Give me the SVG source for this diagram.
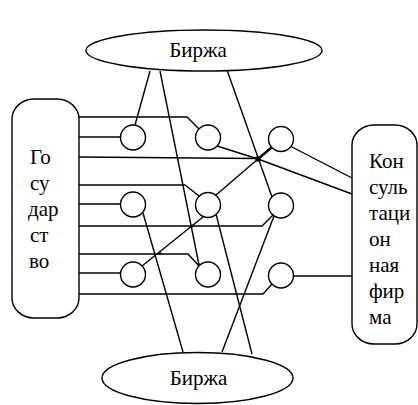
<svg xmlns="http://www.w3.org/2000/svg" width="418" height="405" viewBox="0 0 418 405">
<style>
.s{fill:#fff;stroke:#000;stroke-width:1.4}
.w{fill:none;stroke:#000;stroke-width:1.4;stroke-linejoin:miter}
.d{fill:#000}
</style>
<rect width="418" height="405" fill="#fff"/>
<g id="connectors">
<polyline class="w" points="79,117 187,117 199,129"/>
<polyline class="w" points="79,137 120.5,137"/>
<polyline class="w" points="79,157 258,158.5"/>
<polyline class="w" points="79,185 185,185 199,196"/>
<polyline class="w" points="79,204 120.5,204"/>
<polyline class="w" points="79,226 262,226 273,215"/>
<polyline class="w" points="79,254 188,254 199,266"/>
<polyline class="w" points="79,273 120.5,273"/>
<polyline class="w" points="79,294 263,294 272,284"/>
<line class="w" x1="150" y1="71" x2="135" y2="125"/>
<line class="w" x1="160" y1="71" x2="199" y2="265"/>
<line class="w" x1="227" y1="70" x2="272" y2="197"/>
<line class="w" x1="143" y1="213" x2="183" y2="352"/>
<line class="w" x1="216" y1="214" x2="252" y2="354"/>
<line class="w" x1="274" y1="216" x2="222" y2="352"/>
<line class="w" x1="217" y1="146" x2="258" y2="159"/>
<line class="w" x1="258" y1="159" x2="352" y2="194"/>
<line class="w" x1="258" y1="159" x2="272" y2="147" style="stroke-width:2.4"/>
<line class="w" x1="258" y1="159" x2="216" y2="195"/>
<line class="w" x1="203" y1="217" x2="142" y2="266"/>
<line class="w" x1="290" y1="146" x2="352" y2="178"/>
<line class="w" x1="293.5" y1="276" x2="352" y2="276"/>
<rect class="d" x="255.5" y="156.5" width="5" height="5"/>
<circle class="d" cx="192" cy="226" r="1.6"/>
<circle class="d" cx="160" cy="253.5" r="1.6"/>
<circle class="d" cx="198.5" cy="264.5" r="1.4"/>
</g>
<g id="birzha-top">
<ellipse class="s" cx="204" cy="50.5" rx="118" ry="20.5"/>
<text x="198" y="57" text-anchor="middle" font-family="Liberation Serif" font-size="21">Биржа</text>
</g>
<g id="birzha-bottom">
<ellipse class="s" cx="197.5" cy="378" rx="95.5" ry="25.5"/>
<text x="198.5" y="385" text-anchor="middle" font-family="Liberation Serif" font-size="21">Биржа</text>
</g>
<g id="gosudarstvo">
<rect class="s" x="12" y="99" width="67" height="219" rx="22" ry="20"/>
<text x="30" y="164" font-family="Liberation Serif" font-size="21">Го</text>
<text x="30" y="190" font-family="Liberation Serif" font-size="21">су</text>
<text x="28" y="216" font-family="Liberation Serif" font-size="21">дар</text>
<text x="30" y="242" font-family="Liberation Serif" font-size="21">ст</text>
<text x="29" y="268" font-family="Liberation Serif" font-size="21">во</text>
</g>
<g id="konsalting">
<rect class="s" x="352" y="125" width="65" height="219" rx="22" ry="20"/>
<text x="369" y="168" font-family="Liberation Serif" font-size="21">Кон</text>
<text x="369" y="194" font-family="Liberation Serif" font-size="21">суль</text>
<text x="369" y="220" font-family="Liberation Serif" font-size="21">таци</text>
<text x="369" y="246" font-family="Liberation Serif" font-size="21">он</text>
<text x="369" y="272" font-family="Liberation Serif" font-size="21">ная</text>
<text x="369" y="298" font-family="Liberation Serif" font-size="21">фир</text>
<text x="369" y="324" font-family="Liberation Serif" font-size="21">ма</text>
</g>
<g id="n-a1"><circle class="s" cx="133" cy="137.5" r="12.5"/></g>
<g id="n-a2"><circle class="s" cx="208" cy="137.5" r="12.5"/></g>
<g id="n-a3"><circle class="s" cx="281" cy="139" r="12.5"/></g>
<g id="n-b1"><circle class="s" cx="133" cy="204.5" r="12.5"/></g>
<g id="n-b2"><circle class="s" cx="208" cy="205" r="12.5"/></g>
<g id="n-b3"><circle class="s" cx="281" cy="205.5" r="12.5"/></g>
<g id="n-c1"><circle class="s" cx="133" cy="274.5" r="12.5"/></g>
<g id="n-c2"><circle class="s" cx="208" cy="274.5" r="12.5"/></g>
<g id="n-c3"><circle class="s" cx="281" cy="275.5" r="12.5"/></g>
</svg>
